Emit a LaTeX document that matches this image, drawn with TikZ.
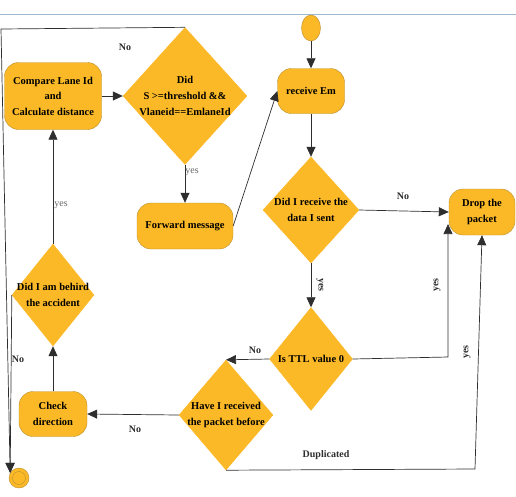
\documentclass[tikz,border=0pt]{standalone}
\usepackage{fontspec}
\setmainfont{Liberation Serif}
\usepackage{tikz}
\usetikzlibrary{arrows.meta,positioning,shapes.geometric}
\definecolor{FlowAmber}{HTML}{FBB928}
\definecolor{FlowEdge}{HTML}{B98E2C}
\definecolor{FlowInk}{HTML}{2E2E2E}
\definecolor{FlowRule}{HTML}{9FB8D2}

\begin{document}
\begin{tikzpicture}[
        x=1pt,y=-1pt,
        box/.style={rectangle,rounded corners=14pt,draw=FlowEdge,thin,align=center,
          fill=FlowAmber,inner sep=1pt,font=\bfseries\fontsize{10.5}{15.5}\selectfont},
        decision/.style={diamond,draw=FlowAmber,fill=FlowAmber,inner sep=0pt},
        dtext/.style={align=center,font=\bfseries\fontsize{10.5}{16}\selectfont},
        startc/.style={ellipse,draw=FlowEdge,thin,fill=FlowAmber,inner sep=0pt,
          minimum width=19pt,minimum height=26pt},
        endc/.style={circle,draw=FlowEdge,thin,fill=FlowAmber,inner sep=0pt,minimum size=20pt,
          path picture={\draw[FlowEdge,thin] (path picture bounding box.center) circle (6.5pt);}},
        arrow/.style={-{Triangle[length=10pt,width=9pt]},line width=0.7pt,draw=FlowInk},
        tag/.style={font=\bfseries\fontsize{10}{11}\selectfont,text=FlowInk,inner sep=1pt},
        soft/.style={font=\fontsize{10}{11}\selectfont,text=black!60,inner sep=1pt}
      ]
        \useasboundingbox (0,0) rectangle (516,496);
        \draw[FlowRule,line width=0.8pt] (0,14) -- (516,14);

        % right column
        \node[startc] (start) at (311,28) {};
        \node[box,minimum width=67pt,minimum height=45pt] (recv) at (311,91) {receive Em};
        \node[decision,minimum width=96pt,minimum height=106pt,
          label={[dtext]center:Did I receive the\\data I sent}] (sent) at (311,210) {};
        \node[box,minimum width=66pt,minimum height=46pt] (drop) at (482,212) {Drop the\\packet};
        \node[decision,minimum width=83pt,minimum height=103pt,
          label={[dtext]center:Is TTL value 0}] (ttl) at (311,359) {};
        \node[decision,minimum width=94pt,minimum height=110pt,
          label={[dtext]center:Have I received\\the packet before}] (before) at (226,415) {};

        % left column
        \node[box,minimum width=68pt,minimum height=45pt] (check) at (53,414) {Check\\direction};
        \node[decision,minimum width=82pt,minimum height=102pt,
          label={[dtext]center:Did I am behird\\the accident}] (behind) at (53,295) {};
        \node[box,minimum width=97pt,minimum height=67pt] (compare) at (53,96) {Compare Lane Id\\and\\Calculate distance};
        \node[decision,minimum width=124pt,minimum height=137pt,
          label={[dtext]center:Did\\S >=threshold \&\&\\Vlaneid==EmlaneId}] (cond) at (185,96) {};
        \node[box,minimum width=96pt,minimum height=46pt] (fwd) at (185,226) {Forward message};
        \node[endc] (stop) at (19,478) {};

        \coordinate (ttlc) at (448,357);
        \coordinate (dupc) at (475,469);
        \coordinate (topc) at (1,29);

        \draw[arrow] (start) -- (recv);
        \draw[arrow] (recv) -- (sent.north);
        \draw[arrow] (sent.east) -- (drop.west);
        \draw[arrow] (sent.south) -- (ttl.north);
        \draw[arrow] (ttl.east) -- (ttlc) -- (ttlc |- drop.200);
        \draw[arrow] (ttl.west) -- (before.north);
        \draw[arrow] (before.west) -- (check.east);
        \draw[arrow] (before.south) -- (dupc) -- (drop.south);
        \draw[arrow] (check.north) -- (behind.south);
        \draw[arrow] (behind.north) -- (compare.south);
        \draw[arrow] (behind.west) -- (stop.150);
        \draw[arrow] (cond.north) -- (topc) -- (stop.150);
        \draw[arrow] (compare.east) -- (cond.west);
        \draw[arrow] (cond.south) -- (fwd.north);
        \draw[arrow] (fwd.east) -- (recv.west);

        \node[tag] (no1) at (125,47) {No};
        \node[soft] (yes1) at (192,172) {yes};
        \node[soft] (yes2) at (61,205) {yes};
        \node[tag] (no2) at (403,196) {No};
        \node[tag,rotate=-90] (yes3) at (320,285) {yes};
        \node[tag,rotate=90] (yes4) at (437,285) {yes};
        \node[tag,rotate=90] (yes5) at (467,352) {yes};
        \node[tag] (no3) at (255,350) {No};
        \node[tag] (no4) at (135,429) {No};
        \node[tag] (no5) at (18,359) {No};
        \node[tag] (dup) at (326,455) {Duplicated};
      \end{tikzpicture}
\end{document}
